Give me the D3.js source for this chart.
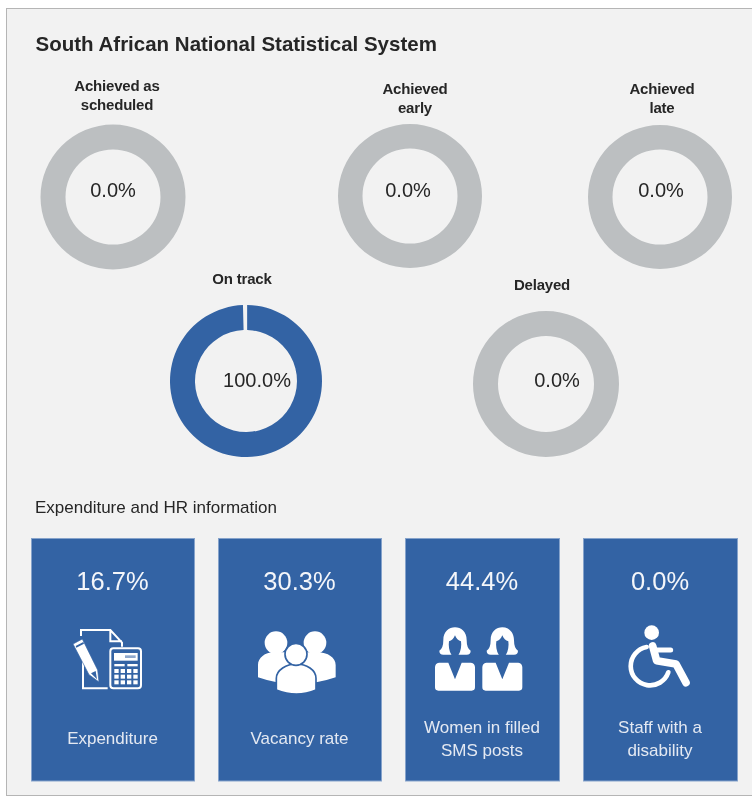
<!DOCTYPE html>
<html>
<head>
<meta charset="utf-8">
<script src="https://cdn.jsdelivr.net/npm/d3@7"></script>
<style>
  html, body { margin: 0; padding: 0; background: #fff; }
  svg { display: block; filter: blur(0.4px); }
  text { font-family: "Liberation Sans", Arial, sans-serif; }
</style>
</head>
<body>
<svg width="752" height="798"></svg>
<script>
// data
var statusLabels = [['Achieved as', 'scheduled'], ['Achieved', 'early'], ['Achieved', 'late'], ['On track'], ['Delayed']];
var statusValues = [0, 0, 0, 100, 0];
var cardLabels = [['Expenditure'], ['Vacancy rate'], ['Women in filled', 'SMS posts'], ['Staff with a', 'disability']];
var cardValues = [16.7, 30.3, 44.4, 0];
var cardIcons = ['budget', 'people', 'women', 'wheelchair'];

// layout
var donutLayout = [
    { cx: 113, cy: 197, r: 72.5, inner: 47.5, tx: 113, ty: 197, lx: 117, ly: 91 },
    { cx: 410, cy: 196, r: 72, inner: 47.5, tx: 408, ty: 197, lx: 415, ly: 94 },
    { cx: 660, cy: 197, r: 72, inner: 47.5, tx: 661, ty: 197, lx: 662, ly: 94 },
    { cx: 246, cy: 381, r: 76, inner: 51, tx: 257, ty: 387, lx: 242, ly: 284 },
    { cx: 546, cy: 384, r: 73, inner: 48, tx: 557, ty: 387, lx: 542, ly: 290 }
];
var cardLayout = [
    { x: 31, w: 163, ox: 65 },
    { x: 218, w: 163, ox: 250 },
    { x: 405, w: 154, ox: 430 },
    { x: 583, w: 154, ox: 620 }
];

var blue = '#3363a4', grey = '#bcbfc1', panel = '#f2f2f2', ink = '#262626';
var fmt = d3.format('.1f');

// icons are traced at 3x, see the scale on the icon group below
var drawIcon = {
    budget: function(g) {
        // sheet
        g.append('path')
            .attr('d', 'M48,48 V30 H136 L171,68 V80 M136,30 V64 H171 M54,100 V205 H128')
            .attr('fill', 'none').attr('stroke', '#fff').attr('stroke-width', 6);
        // pencil
        g.append('path')
            .attr('d', 'M24,72 L52,57 L98,150 L102,186 L72,164 Z')
            .attr('fill', '#fff').attr('stroke', blue).attr('stroke-width', 2);
        g.append('path')
            .attr('d', 'M32,78 L55,66 L57,71 L34,83 Z')
            .attr('fill', blue);
        g.append('path')
            .attr('d', 'M78,160 L92,153 L96,178 Z')
            .attr('fill', blue);
        // calculator
        g.append('rect')
            .attr('x', 136).attr('y', 85).attr('width', 92).attr('height', 120).attr('rx', 9)
            .attr('fill', blue).attr('stroke', '#fff').attr('stroke-width', 6);
        g.append('rect')
            .attr('x', 147).attr('y', 99).attr('width', 71).attr('height', 23)
            .attr('fill', '#fff');
        g.append('rect')
            .attr('x', 180).attr('y', 106).attr('width', 32).attr('height', 8)
            .attr('fill', '#8fa8cc');
        g.selectAll('rect.top')
            .data([148, 187])
            .enter().append('rect')
                .attr('class', 'top')
                .attr('x', function(d) { return d; }).attr('y', 132)
                .attr('width', 31).attr('height', 7)
                .attr('fill', '#fff');
        [147, 164, 181].forEach(function(y) {
            [148, 167, 186, 205].forEach(function(x) {
                g.append('rect')
                    .attr('x', x).attr('y', y).attr('width', 13).attr('height', 12)
                    .attr('fill', '#fff');
            });
        });
    },
    people: function(g) {
        g.append('path')
            .attr('d', 'M24,172 V135 C24,112 48,95 75,97 H195 C232,95 257,112 257,135 V172 Q200,192 138,192 Q80,192 24,172 Z')
            .attr('fill', '#fff');
        g.selectAll('circle.back')
            .data([78, 195])
            .enter().append('circle')
                .attr('class', 'back')
                .attr('cx', function(d) { return d; }).attr('cy', 68).attr('r', 34)
                .attr('fill', '#fff');
        g.append('path')
            .attr('d', 'M79,210 V175 C79,150 110,132 138,132 C170,132 198,150 198,175 V210 Q140,234 79,210 Z')
            .attr('fill', '#fff').attr('stroke', blue).attr('stroke-width', 5);
        g.append('circle')
            .attr('cx', 138).attr('cy', 103).attr('r', 33)
            .attr('fill', '#fff').attr('stroke', blue).attr('stroke-width', 5);
    },
    women: function(g) {
        [75, 217].forEach(function(x) {
            var w = g.append('g').attr('transform', 'translate(' + x + ',0)');
            w.append('path')
                .attr('d', 'M-47,92 Q-35,85 -35,60 C-35,35 -18,22 0,22 C18,22 35,35 35,60 Q35,85 47,92 Q47,104 35,104 H-35 Q-47,104 -47,92 Z')
                .attr('fill', '#fff');
            w.append('path')
                .attr('d', 'M-10,106 C-18,94 -20,76 -18,64 C-10,62 -4,56 0,46 C4,56 10,62 18,64 C20,76 18,94 10,106 Z')
                .attr('fill', blue);
            w.append('path')
                .attr('d', 'M-48,128 H-20 L0,178 L20,128 H48 Q60,130 60,142 V202 Q60,212 50,212 H-50 Q-60,212 -60,202 V142 Q-60,130 -48,128 Z')
                .attr('fill', '#fff');
        });
    },
    wheelchair: function(g) {
        g.append('circle')
            .attr('cx', 95).attr('cy', 38).attr('r', 22)
            .attr('fill', '#fff');
        g.append('path')
            .attr('d', 'M80,81 A58,58 0 1 0 145,157')
            .attr('fill', 'none').attr('stroke', '#fff')
            .attr('stroke-width', 14).attr('stroke-linecap', 'round');
        g.append('path')
            .attr('d', 'M98,78 L110,122 L168,132 L198,188')
            .attr('fill', 'none').attr('stroke', '#fff')
            .attr('stroke-width', 23).attr('stroke-linecap', 'round').attr('stroke-linejoin', 'round');
        g.append('path')
            .attr('d', 'M105,90 H152')
            .attr('fill', 'none').attr('stroke', '#fff')
            .attr('stroke-width', 15).attr('stroke-linecap', 'round');
    }
};

var svg = d3.select('svg');

svg.append('rect')
    .attr('x', 6.5).attr('y', 8.5)
    .attr('width', 760).attr('height', 787)
    .attr('fill', panel)
    .attr('stroke', '#b5b5b5');

svg.append('text')
    .attr('x', 35.5).attr('y', 51)
    .attr('font-size', 20.5).attr('font-weight', 'bold')
    .attr('fill', ink)
    .text('South African National Statistical System');

svg.append('text')
    .attr('x', 35).attr('y', 512.5)
    .attr('font-size', 17).attr('fill', ink)
    .text('Expenditure and HR information');

// donuts
var donuts = svg.append('g').selectAll('g')
    .data(statusValues)
    .enter().append('g')
        .attr('class', 'donut');

donuts.each(function(v, i) {
    var g = d3.select(this), p = donutLayout[i];
    var pie = d3.pie().sort(null).padAngle(v > 0 ? 0.025 : 0);
    var arc = d3.arc().innerRadius(p.inner).outerRadius(p.r);
    g.selectAll('path')
        .data(pie([v, 100 - v]))
        .enter().append('path')
            .attr('transform', 'translate(' + p.cx + ',' + p.cy + ')')
            .attr('d', arc)
            .attr('fill', function(d) { return d.index === 0 ? blue : grey; });
    g.append('text')
        .attr('x', p.tx).attr('y', p.ty)
        .attr('text-anchor', 'middle')
        .attr('font-size', 20).attr('fill', ink)
        .text(fmt(v) + '%');
    g.selectAll('text.lab')
        .data(statusLabels[i])
        .enter().append('text')
            .attr('class', 'lab')
            .attr('x', p.lx)
            .attr('y', function(d, k) { return p.ly + k * 19; })
            .attr('text-anchor', 'middle')
            .attr('font-size', 15).attr('font-weight', 'bold')
            .attr('letter-spacing', -0.2)
            .attr('fill', ink)
            .text(function(d) { return d; });
});

// cards
var cards = svg.append('g').selectAll('g')
    .data(cardValues)
    .enter().append('g')
        .attr('class', 'card');

cards.each(function(v, i) {
    var g = d3.select(this), c = cardLayout[i], mid = c.x + c.w / 2;
    g.append('rect')
        .attr('x', c.x + 0.5).attr('y', 538.5)
        .attr('width', c.w).attr('height', 242.5)
        .attr('fill', blue)
        .attr('stroke', '#86a3cb');
    g.append('text')
        .attr('x', mid).attr('y', 590)
        .attr('text-anchor', 'middle')
        .attr('font-size', 25.5).attr('fill', '#f4f6fa')
        .text(fmt(v) + '%');
    var lines = cardLabels[i];
    g.selectAll('text.lab')
        .data(lines)
        .enter().append('text')
            .attr('class', 'lab')
            .attr('x', mid)
            .attr('y', function(d, k) { return (lines.length > 1 ? 733 : 744) + k * 23; })
            .attr('text-anchor', 'middle')
            .attr('font-size', 17).attr('fill', '#e4e9f2')
            .text(function(d) { return d; });
    var icon = g.append('g')
        .attr('transform', 'translate(' + c.ox + ',620) scale(0.3333)');
    drawIcon[cardIcons[i]](icon);
});
</script>
</body>
</html>
